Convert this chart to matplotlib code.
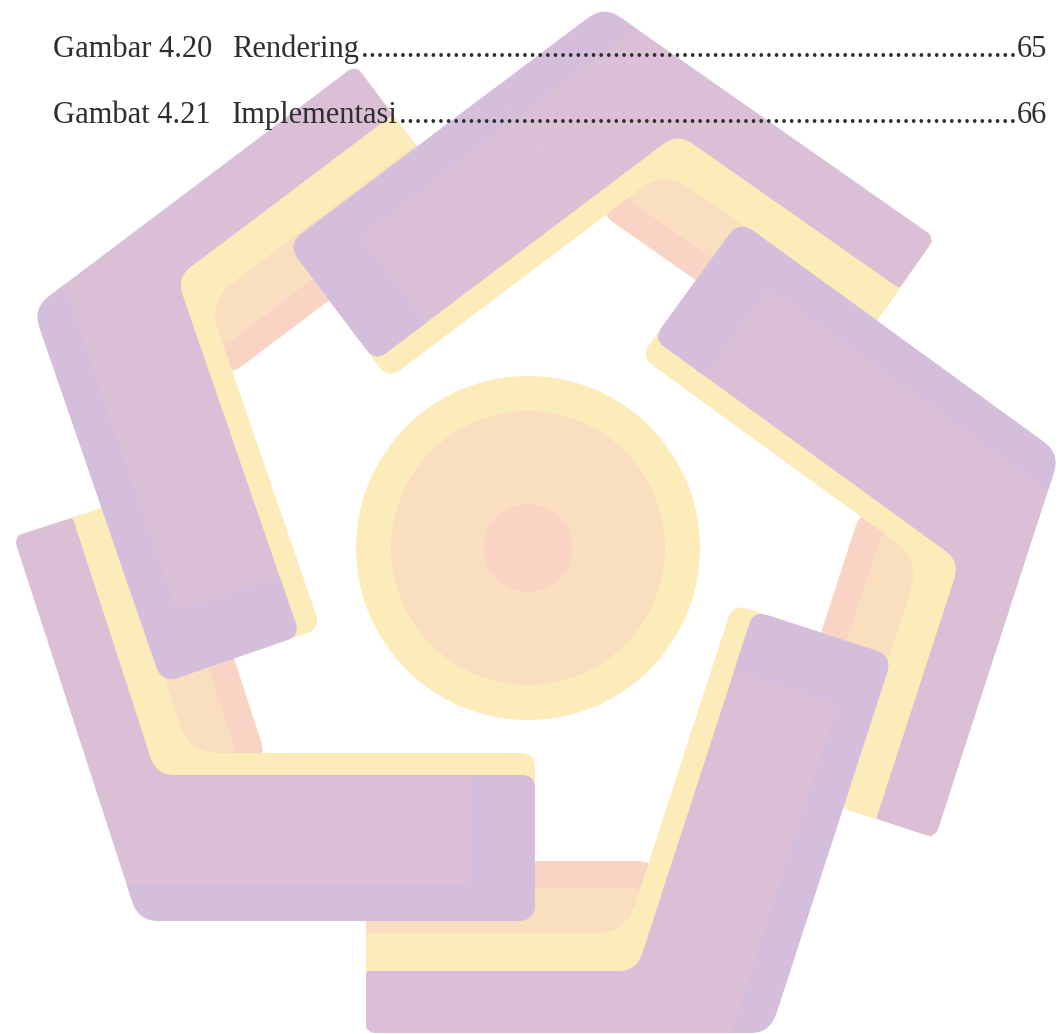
import numpy as np
import matplotlib.pyplot as plt
from matplotlib.path import Path
from matplotlib.patches import PathPatch, Circle

W, H = 1060, 1034
CX, CY = 528, 548  # centre of the watermark, pixel coords

# watermark colours
PINK = "#dabfd6"
LAVENDER = "#d5bedb"
YELLOW = "#fcecba"
PEACH = "#fadec0"
SALMON = "#f9d4c5"
INK = "#2e2e2e"

# centre discs (radius, colour)
DISC_R = [172, 137, 44]
DISC_C = [YELLOW, PEACH, SALMON]

# the logo is one bent arm repeated five times: top, right, bottom, lower left, left
ARM_ROT = [145, 72, 0, 288, 217]
ARM_SHIFT = [(-4, -6), (-4, -14), (0, 0), (-3, -7), (-10, 2)]

# distance bands from the centre: outer leg and inner leg of an arm
OUT_PURPLE = (423, 485)
OUT_YELLOW = (385, 423)
OUT_PEACH = (340, 385)
OUT_SALMON = (313, 340)
IN_YELLOW = (212, 234)
IN_PURPLE = (234, 380)
IN_STRIPE = 343
OUT_END = -162
IN_END = 10
CAP_W = 63

# daftar gambar
TOC_LABEL = ["Gambar 4.20", "Gambat 4.21"]
TOC_TITLE = ["Rendering", "Implementasi"]
TOC_PAGE = ["65", "66"]
TOC_Y = [57, 123]

N0 = np.array([0.0, -1.0])
T0 = np.array([1.0, 0.0])
N1 = np.array([np.cos(np.radians(-18)), np.sin(np.radians(-18))])
T1 = np.array([np.cos(np.radians(72)), np.sin(np.radians(72))])


def on0(d, s):
    return d * N0 + s * T0


def on1(d, s):
    return d * N1 + s * T1


def cross(d0, d1):
    return np.linalg.solve(np.array([N0, N1]), np.array([d0, d1]))


def to_img(pts, rot, shift):
    r = np.radians(rot)
    c, s = np.cos(r), np.sin(r)
    dx, dy = shift
    return [(CX + dx + x * c - y * s, CY + dy - (x * s + y * c)) for x, y in pts]


def rounded(pts, radii):
    verts, codes = [], []
    n = len(pts)
    for i in range(n):
        p0, p1, p2 = np.array(pts[i - 1]), np.array(pts[i]), np.array(pts[(i + 1) % n])
        u, v = p0 - p1, p2 - p1
        lu, lv = np.linalg.norm(u), np.linalg.norm(v)
        r = min(radii[i], lu / 2, lv / 2)
        a, b = p1 + u / lu * r, p1 + v / lv * r
        verts.append(a)
        codes.append(Path.MOVETO if i == 0 else Path.LINETO)
        verts += [p1, b]
        codes += [Path.CURVE3, Path.CURVE3]
    verts.append(verts[0])
    codes.append(Path.CLOSEPOLY)
    return Path(verts, codes)


def shape(ax, pts, radii, color, arm, z, clip):
    p = PathPatch(rounded(to_img(pts, *arm), radii), facecolor=color,
                  edgecolor="none", lw=0, zorder=z)
    ax.add_patch(p)
    if clip is not None:
        p.set_clip_path(clip, ax.transData)


def draw_arm(ax, arm, z, clip=None):
    o1 = OUT_PURPLE[1]
    shape(ax, [on0(o1 - 4, OUT_END), cross(o1 - 4, 220), cross(OUT_SALMON[0], 220),
               on0(OUT_SALMON[0], OUT_END)], [0, 0, 20, 6], SALMON, arm, z, clip)
    shape(ax, [on0(o1 - 4, OUT_END), cross(o1 - 4, 220), cross(OUT_PEACH[0], 220),
               on0(OUT_PEACH[0], OUT_END)], [0, 0, 22, 4], PEACH, arm, z, clip)
    shape(ax, [on0(o1 - 2, OUT_END), cross(o1 - 2, IN_PURPLE[1] - 2),
               on1(IN_PURPLE[1] - 2, IN_END), on1(IN_YELLOW[0], IN_END),
               cross(OUT_YELLOW[0], IN_YELLOW[0]), on0(OUT_YELLOW[0], OUT_END)],
          [8, 22, 16, 15, 30, 3], YELLOW, arm, z, clip)
    shape(ax, [on0(o1, OUT_END), cross(o1, IN_PURPLE[1]), on1(IN_PURPLE[1], IN_END),
               on1(IN_PURPLE[0], IN_END), cross(OUT_PURPLE[0], IN_PURPLE[0]),
               on0(OUT_PURPLE[0], OUT_END)],
          [10, 25, 18, 14, 18, 3], PINK, arm, z, clip)
    shape(ax, [cross(o1, IN_STRIPE), cross(o1, IN_PURPLE[1]), on1(IN_PURPLE[1], IN_END),
               on1(IN_PURPLE[0], IN_END), on1(IN_PURPLE[0], IN_END - CAP_W),
               on1(IN_STRIPE, IN_END - CAP_W)],
          [0, 25, 18, 14, 0, 12], LAVENDER, arm, z, clip)


fig = plt.figure(figsize=(W / 100, H / 100), dpi=100)
ax = fig.add_axes([0, 0, 1, 1])
ax.set_xlim(0, W)
ax.set_ylim(H, 0)
ax.axis("off")

for r, c in zip(DISC_R, DISC_C):
    ax.add_patch(Circle((CX, CY), r, facecolor=c, edgecolor="none", zorder=1))

arms = list(zip(ARM_ROT, ARM_SHIFT))
for k, arm in enumerate(arms):
    draw_arm(ax, arm, 2 + k)

# first arm's inner leg lies over the last arm, draw it again on top
region = Path(to_img([on1(100, -250), on1(600, -250), on1(600, 300), on1(100, 300)],
                     *arms[0]) + [(0, 0)],
              [Path.MOVETO, Path.LINETO, Path.LINETO, Path.LINETO, Path.CLOSEPOLY])
draw_arm(ax, arms[0], 10, clip=region)

font = dict(family="Liberation Serif", fontsize=22, color=INK, va="baseline", zorder=20)
fig.canvas.draw()
for lab, tit, page, y in zip(TOC_LABEL, TOC_TITLE, TOC_PAGE, TOC_Y):
    ax.text(53, y, lab, ha="left", **font)
    t = ax.text(232, y, tit, ha="left", **font)
    p = ax.text(1047, y, page, ha="right", **font)
    fig.canvas.draw()
    inv = ax.transData.inverted()
    x0 = inv.transform(t.get_window_extent().p1)[0]
    x1 = inv.transform(p.get_window_extent().p0)[0]
    probe = ax.text(0, -100, "." * 20, ha="left", **font)
    fig.canvas.draw()
    bb = probe.get_window_extent()
    dot_w = (inv.transform(bb.p1)[0] - inv.transform(bb.p0)[0]) / 20
    probe.remove()
    n = int((x1 - x0) / dot_w)
    ax.text(x1, y, "." * n, ha="right", **font)

fig.savefig("out.png", dpi=100, facecolor="white")
